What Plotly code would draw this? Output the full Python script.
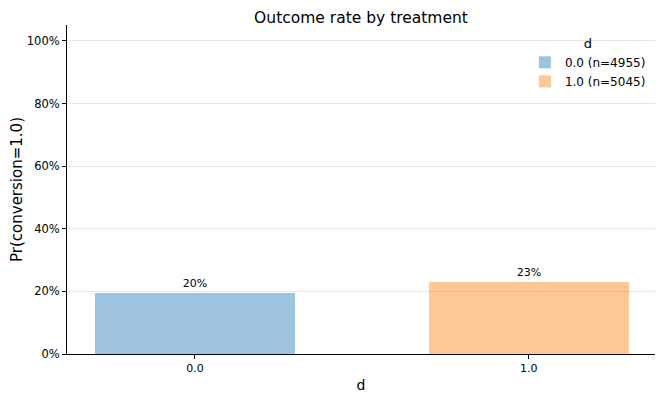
import plotly.graph_objects as go

categories = [0.0, 1.0]
cat_labels = ["0.0", "1.0"]
rates = [0.196, 0.230]
counts = [4955, 5045]
bar_colors = ["rgba(31,119,180,0.44)", "rgba(255,127,14,0.44)"]
y_ticks = [0, 0.2, 0.4, 0.6, 0.8, 1.0]
y_tick_text = ["0%", "20%", "40%", "60%", "80%", "100%"]

fig = go.Figure()
for c, lab, r, n, col in zip(categories, cat_labels, rates, counts, bar_colors):
    fig.add_trace(go.Bar(
        x=[c], y=[r], width=0.6, marker=dict(color=col, line=dict(width=0)),
        name=f"{lab} (n={n})", text=[f"{r:.0%}"], textposition="outside",
        textfont=dict(size=11, color="black"), cliponaxis=False,
    ))

fig.update_layout(
    width=664, height=400,
    margin=dict(l=59, r=17, t=17, b=54, autoexpand=False),
    plot_bgcolor="white", paper_bgcolor="white",
    font=dict(family="DejaVu Sans", size=11, color="black"),
    title=dict(text="Outcome rate by treatment", x=0.5, xref="paper", xanchor="center",
               yref="container", y=0.99, yanchor="top", pad=dict(t=0, b=0),
               font=dict(size=15.5)),
    showlegend=True,
    legend=dict(title=dict(text="d", side="top center", font=dict(size=13)), x=0.993, y=0.982,
                xanchor="right", yanchor="top", bgcolor="rgba(0,0,0,0)", font=dict(size=12),
                itemwidth=30),
    bargap=0,
)
fig.update_xaxes(
    range=[-0.383, 1.378], tickvals=categories, ticktext=cat_labels,
    showline=True, linecolor="black", linewidth=1, ticks="outside", ticklen=4, tickcolor="black",
    showgrid=False, zeroline=False, title=dict(text="d", font=dict(size=14), standoff=5),
    tickfont=dict(size=11), automargin=False,
)
fig.update_yaxes(
    range=[0, 1.051], tickvals=y_ticks, ticktext=y_tick_text,
    showline=True, linecolor="black", linewidth=1, ticks="outside", ticklen=4, tickcolor="black",
    showgrid=True, gridcolor="#e6e6e6", gridwidth=1, zeroline=False,
    title=dict(text="Pr(conversion=1.0)", font=dict(size=15), standoff=5),
    tickfont=dict(size=11.5), automargin=False,
)
fig.write_html("out.html")
